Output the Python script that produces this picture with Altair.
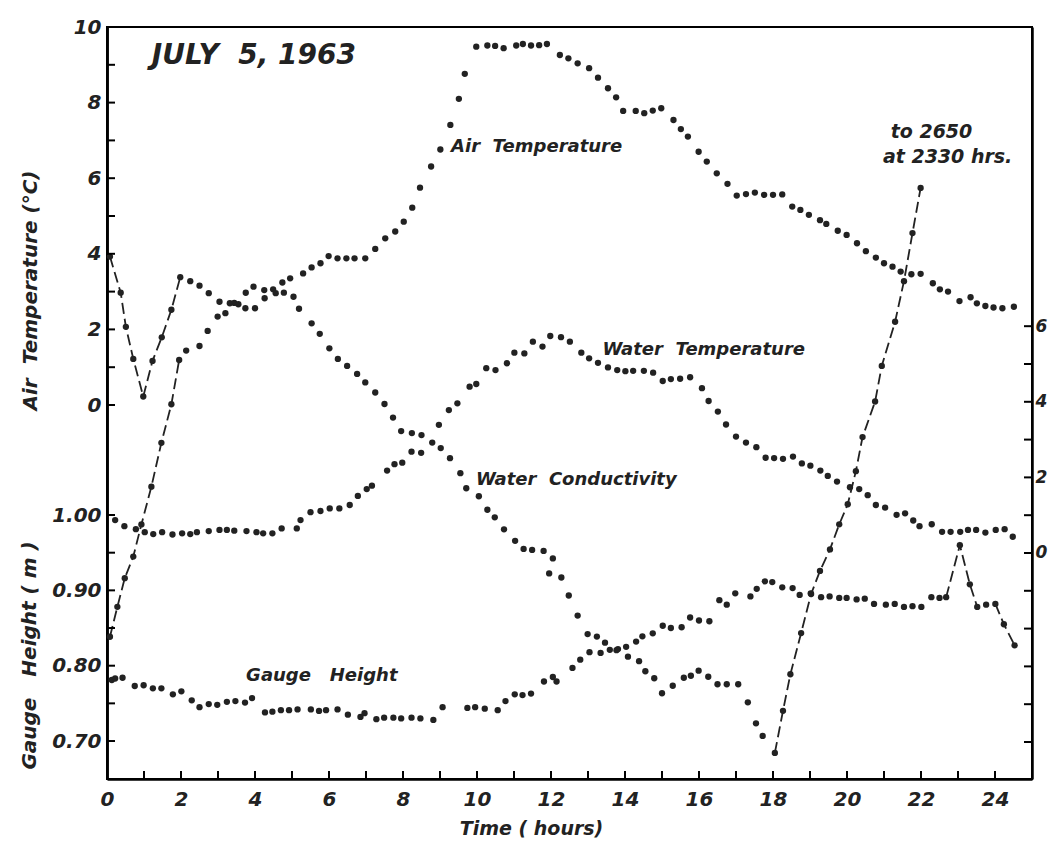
import altair as alt
import pandas as pd

# ------------------------------------------------------------------
# Data (hours after midnight, July 5, 1963)
# ------------------------------------------------------------------
air_hours = [0.08, 0.28, 0.48, 0.71, 0.93, 1.20, 1.47, 1.74, 1.95, 2.14, 2.50, 2.72,
             2.99, 3.20, 3.44, 3.75, 3.96, 4.25, 4.49, 4.74, 4.95, 5.30, 5.53, 5.77,
             5.99, 6.23, 6.47, 6.69, 6.98, 7.25, 7.52, 7.79, 8.02, 8.25, 8.46, 8.76,
             9.01, 9.28, 9.51, 9.67, 9.98, 10.28, 10.49, 10.72, 11.06, 11.24, 11.46,
             11.68, 11.89, 12.24, 12.47, 12.72, 13.03, 13.27, 13.54, 13.76, 13.95,
             14.29, 14.52, 14.75, 14.98, 15.31, 15.51, 15.70, 15.99, 16.21, 16.48,
             16.77, 17.02, 17.27, 17.51, 17.76, 18.00, 18.25, 18.52, 18.74, 18.97,
             19.27, 19.44, 19.75, 19.99, 20.27, 20.51, 20.78, 21.00, 21.23, 21.45,
             21.74, 21.99, 22.32, 22.51, 22.73, 23.04, 23.34, 23.51, 23.74, 23.96,
             24.20, 24.51]
air_temp = [-6.13, -5.34, -4.58, -4.01, -3.16, -2.16, -1.00, 0.02, 1.19, 1.44, 1.56, 1.96,
            2.34, 2.43, 2.70, 2.97, 3.13, 3.04, 3.06, 3.24, 3.35, 3.48, 3.64, 3.75,
            3.94, 3.88, 3.88, 3.88, 3.88, 4.13, 4.41, 4.59, 4.85, 5.22, 5.75, 6.31,
            6.76, 7.41, 8.10, 8.76, 9.48, 9.51, 9.50, 9.44, 9.51, 9.55, 9.51,
            9.52, 9.55, 9.26, 9.17, 9.04, 8.91, 8.66, 8.38, 8.14, 7.78,
            7.78, 7.72, 7.79, 7.85, 7.54, 7.30, 7.10, 6.70, 6.44, 6.13,
            5.85, 5.54, 5.58, 5.62, 5.56, 5.56, 5.57, 5.25, 5.16, 5.03,
            4.89, 4.79, 4.61, 4.50, 4.28, 4.07, 3.90, 3.75, 3.66, 3.53,
            3.46, 3.47, 3.22, 3.06, 3.00, 2.75, 2.85, 2.69, 2.62, 2.58,
            2.56, 2.60]

gauge_hours = [0.13, 0.22, 0.42, 0.75, 0.99, 1.24, 1.47, 1.78, 2.01, 2.29, 2.50, 2.75,
               2.98, 3.24, 3.47, 3.73, 3.92, 4.27, 4.47, 4.70, 4.92, 5.15, 5.51, 5.73,
               5.92, 6.23, 6.51, 6.85, 6.96, 7.28, 7.49, 7.74, 7.95, 8.23, 8.47, 8.82,
               9.07, 9.74, 9.95, 10.21, 10.56, 10.77, 11.02, 11.23, 11.46, 11.81, 12.05,
               12.15, 12.58, 12.79, 13.04, 13.34, 13.59, 13.81, 14.03, 14.30, 14.47,
               14.75, 15.02, 15.24, 15.53, 15.76, 16.00, 16.28, 16.55, 16.75, 16.98,
               17.39, 17.56, 17.78, 17.98, 18.25, 18.53, 18.72, 19.02, 19.30, 19.53,
               19.79, 19.99, 20.26, 20.48, 20.73, 21.05, 21.29, 21.54, 21.77, 22.01,
               22.28, 22.50, 22.68, 23.05, 23.32, 23.52, 23.76, 24.01, 24.24, 24.53]
gauge_height = [0.781, 0.783, 0.784, 0.773, 0.774, 0.770, 0.770, 0.762, 0.766, 0.754, 0.745, 0.749,
                0.748, 0.752, 0.753, 0.751, 0.757, 0.738, 0.739, 0.741, 0.741, 0.742, 0.742, 0.740,
                0.741, 0.742, 0.735, 0.732, 0.737, 0.729, 0.731, 0.731, 0.730, 0.731, 0.730, 0.728,
                0.745, 0.744, 0.745, 0.743, 0.741, 0.753, 0.762, 0.761, 0.763, 0.779, 0.785,
                0.779, 0.797, 0.808, 0.818, 0.817, 0.821, 0.822, 0.825, 0.832, 0.839,
                0.843, 0.853, 0.850, 0.851, 0.864, 0.860, 0.859, 0.887, 0.881, 0.896,
                0.892, 0.902, 0.912, 0.911, 0.904, 0.903, 0.894, 0.896, 0.891, 0.892,
                0.890, 0.890, 0.888, 0.889, 0.882, 0.881, 0.882, 0.878, 0.879, 0.878,
                0.891, 0.890, 0.891, 0.960, 0.908, 0.878, 0.881, 0.882, 0.855, 0.827]

water_hours = [0.22, 0.47, 0.78, 1.02, 1.25, 1.49, 1.77, 2.03, 2.25, 2.43, 2.75, 3.04,
               3.24, 3.44, 3.77, 4.04, 4.22, 4.47, 4.72, 5.13, 5.23, 5.50, 5.77, 6.02,
               6.28, 6.56, 6.78, 7.02, 7.16, 7.57, 7.77, 7.98, 8.23, 8.49, 8.97, 9.24,
               9.47, 9.80, 9.98, 10.25, 10.50, 10.81, 11.01, 11.28, 11.51, 11.77, 11.98,
               12.27, 12.51, 12.82, 13.03, 13.27, 13.54, 13.79, 14.01, 14.22, 14.51,
               14.76, 15.02, 15.24, 15.49, 15.76, 16.08, 16.26, 16.51, 16.73, 17.00,
               17.27, 17.55, 17.80, 18.03, 18.27, 18.54, 18.78, 19.01, 19.28, 19.48,
               19.73, 20.08, 20.33, 20.56, 20.78, 21.03, 21.34, 21.57, 21.79, 21.96,
               22.29, 22.57, 22.80, 23.06, 23.27, 23.49, 23.74, 24.02, 24.26, 24.48]
water_temp = [0.87, 0.71, 0.63, 0.55, 0.50, 0.55, 0.49, 0.52, 0.50, 0.55, 0.58, 0.61,
              0.61, 0.59, 0.58, 0.55, 0.52, 0.52, 0.65, 0.65, 0.87, 1.08, 1.11, 1.18,
              1.18, 1.27, 1.51, 1.69, 1.78, 2.18, 2.35, 2.39, 2.68, 2.65, 3.39, 3.78,
              3.96, 4.40, 4.47, 4.89, 4.84, 5.02, 5.30, 5.28, 5.59, 5.46, 5.74,
              5.71, 5.59, 5.30, 5.15, 5.03, 4.91, 4.84, 4.81, 4.82, 4.82,
              4.77, 4.55, 4.60, 4.61, 4.65, 4.36, 4.02, 3.74, 3.40, 3.08,
              2.92, 2.80, 2.52, 2.51, 2.49, 2.55, 2.37, 2.31, 2.18, 2.04,
              1.89, 1.74, 1.69, 1.53, 1.27, 1.20, 1.01, 1.05, 0.86, 0.71,
              0.76, 0.56, 0.56, 0.56, 0.61, 0.61, 0.54, 0.61, 0.63, 0.43]

cond_hours = [0.08, 0.37, 0.51, 0.71, 0.98, 1.23, 1.48, 1.74, 1.98, 2.25, 2.50, 2.75,
              3.04, 3.32, 3.55, 3.74, 4.00, 4.26, 4.56, 4.78, 5.04, 5.19, 5.53, 5.75,
              6.01, 6.24, 6.49, 6.76, 6.98, 7.25, 7.50, 7.73, 7.95, 8.24, 8.50, 8.79,
              9.02, 9.27, 9.55, 9.71, 10.05, 10.28, 10.48, 10.73, 11.03, 11.26, 11.49,
              11.80, 11.95, 12.05, 12.28, 12.48, 12.72, 12.99, 13.24, 13.46, 13.77,
              14.08, 14.38, 14.55, 14.79, 15.00, 15.29, 15.59, 15.78, 15.99, 16.25,
              16.50, 16.75, 17.06, 17.32, 17.54, 17.72, 18.05, 18.27, 18.47, 18.76,
              19.03, 19.27, 19.54, 19.79, 20.02, 20.24, 20.42, 20.76, 20.94, 21.30,
              21.54, 21.77, 21.99]
cond_value = [1042, 970, 902, 838, 763, 834, 881, 936, 1001, 993, 984, 969,
              952, 949, 947, 939, 939, 959, 969, 970, 962, 938, 909, 888,
              859, 838, 824, 808, 791, 771, 748, 721, 694, 690, 686, 671,
              660, 640, 610, 580, 564, 537, 522, 498, 475, 459, 457,
              455, 410, 440, 402, 366, 326, 289, 284, 272, 257,
              244, 235, 215, 201, 171, 186, 202, 206, 216, 204,
              189, 189, 189, 153, 111, 86, 52, 136, 209, 291,
              369, 415, 458, 508, 548, 614, 682, 753, 824, 912,
              993, 1089, 1179]

# stretches that the original joins with dashed lines
air_dash_ranges = [(0.08, 1.95)]
gauge_dash_ranges = [(22.68, 23.52), (24.01, 24.53)]
cond_dash_ranges = [(0.08, 1.98), (18.05, 21.99)]

# tick values
x_label_values = list(range(0, 25, 2))
x_tick_values = list(range(1, 25))
air_label_values = [0, 2, 4, 6, 8, 10]
air_tick_values = list(range(0, 11))
gauge_label_values = [0.70, 0.80, 0.90, 1.00]
gauge_tick_values = [0.70, 0.75, 0.80, 0.85, 0.90, 0.95, 1.00]
water_label_values = [0, 2, 4, 6]
water_tick_values = list(range(-5, 7))


def frame(hours, values, dash_ranges):
    seg = []
    for h in hours:
        s = None
        for i, (a, b) in enumerate(dash_ranges):
            if a <= h <= b:
                s = "s%d" % i
        seg.append(s)
    return pd.DataFrame({"h": hours, "v": values, "seg": seg})


air_df = frame(air_hours, air_temp, air_dash_ranges)
gauge_df = frame(gauge_hours, gauge_height, gauge_dash_ranges)
water_df = frame(water_hours, water_temp, [])
cond_df = frame(cond_hours, cond_value, cond_dash_ranges)

FONT = "DejaVu Sans"
INK = "#222222"
W, H = 925, 752
TICK = 8

XS = alt.Scale(domain=[0, 25], nice=False, zero=False)
AIR = alt.Scale(domain=[-9.894, 10], nice=False, zero=False)
GAU = alt.Scale(domain=[0.6496, 1.6478], nice=False, zero=False)
WAT = alt.Scale(domain=[-5.979, 13.915], nice=False, zero=False)
CON = alt.Scale(domain=[0, 1500], nice=False, zero=False)

lab = dict(labelFont=FONT, labelFontStyle="italic", labelFontWeight="bold",
           labelColor="#222222", labelOverlap=False, labelFlush=False)
ttl = dict(titleFont=FONT, titleFontStyle="italic", titleFontWeight="bold",
           titleColor="#222222", titleBaseline="middle", titleAlign="center")

x_main = alt.Axis(orient="bottom", values=x_label_values, format="d", ticks=False,
                  tickSize=0, domain=True, domainColor="black", domainWidth=2.5,
                  grid=False, labelPadding=10, labelFontSize=20,
                  title="Time\u00a0(\u00a0hours)",
                  titleFontSize=19, titleX=424, titleY=49, **ttl, **lab)
air_axis = alt.Axis(orient="left", values=air_label_values, format="d", ticks=False,
                    tickSize=0, domain=True, domainColor="black", domainWidth=2.5,
                    grid=False, labelPadding=6, labelFontSize=20,
                    title="Air\u00a0\u00a0Temperature\u00a0(°C)", titleFontSize=20,
                    titleX=-77, titleY=263, titleAngle=270, **ttl, **lab)
gauge_axis = alt.Axis(orient="left", values=gauge_label_values, format=".2f", ticks=False,
                      tickSize=0, domain=True, domainColor="black", domainWidth=2.5,
                      grid=False, labelPadding=6, labelFontSize=20,
                      title="Gauge\u00a0\u00a0\u00a0Height\u00a0(\u00a0m\u00a0)", titleFontSize=20,
                      titleX=-78, titleY=628, titleAngle=270, **ttl, **lab)
water_axis = alt.Axis(orient="right", values=water_label_values, format="d", ticks=False,
                      tickSize=0, domain=True, domainColor="black", domainWidth=2.5,
                      grid=False, labelPadding=3, labelFontSize=17, title=None, **lab)

dot = dict(size=40, color=INK, opacity=1)
dash = dict(color=INK, strokeWidth=1.8, strokeDash=[11, 5])

air_pts = alt.Chart(air_df).mark_circle(**dot).encode(
    x=alt.X("h:Q", scale=XS, axis=x_main),
    y=alt.Y("v:Q", scale=AIR, axis=air_axis),
)
air_line = alt.Chart(air_df).transform_filter("isValid(datum.seg)").mark_line(**dash).encode(
    x=alt.X("h:Q", scale=XS, axis=None),
    y=alt.Y("v:Q", scale=AIR, axis=None),
    detail="seg:N", order="h:Q",
)
gauge_pts = alt.Chart(gauge_df).mark_circle(**dot).encode(
    x=alt.X("h:Q", scale=XS, axis=None),
    y=alt.Y("v:Q", scale=GAU, axis=gauge_axis),
)
gauge_line = alt.Chart(gauge_df).transform_filter("isValid(datum.seg)").mark_line(**dash).encode(
    x=alt.X("h:Q", scale=XS, axis=None),
    y=alt.Y("v:Q", scale=GAU, axis=None),
    detail="seg:N", order="h:Q",
)
water_pts = alt.Chart(water_df).mark_circle(**dot).encode(
    x=alt.X("h:Q", scale=XS, axis=None),
    y=alt.Y("v:Q", scale=WAT, axis=water_axis),
)
cond_pts = alt.Chart(cond_df).mark_circle(**dot).encode(
    x=alt.X("h:Q", scale=XS, axis=None),
    y=alt.Y("v:Q", scale=CON, axis=None),
)
cond_line = alt.Chart(cond_df).transform_filter("isValid(datum.seg)").mark_line(**dash).encode(
    x=alt.X("h:Q", scale=XS, axis=None),
    y=alt.Y("v:Q", scale=CON, axis=None),
    detail="seg:N", order="h:Q",
)

# inward-pointing axis ticks, placed through the scales
rule = dict(color="black", strokeWidth=2)
x_ticks = alt.Chart(pd.DataFrame({"t": x_tick_values})).mark_rule(**rule).encode(
    x=alt.X("t:Q", scale=XS, axis=None), y=alt.value(H), y2=alt.value(H - TICK))
air_ticks = alt.Chart(pd.DataFrame({"t": air_tick_values})).mark_rule(**rule).encode(
    y=alt.Y("t:Q", scale=AIR, axis=None), x=alt.value(0), x2=alt.value(TICK))
gauge_ticks = alt.Chart(pd.DataFrame({"t": gauge_tick_values})).mark_rule(**rule).encode(
    y=alt.Y("t:Q", scale=GAU, axis=None), x=alt.value(0), x2=alt.value(TICK))
water_ticks = alt.Chart(pd.DataFrame({"t": water_tick_values})).mark_rule(**rule).encode(
    y=alt.Y("t:Q", scale=WAT, axis=None), x=alt.value(W - TICK), x2=alt.value(W))

# annotations (positions in hours / air-temperature units)
notes_main = pd.DataFrame({
    "h": [9.30, 13.39, 9.97, 3.76],
    "v": [6.83, 1.46, -1.98, -7.17],
    "label": ["Air\u00a0\u00a0Temperature", "Water\u00a0\u00a0Temperature",
              "Water\u00a0\u00a0Conductivity", "Gauge\u00a0\u00a0\u00a0Height"],
})
notes_date = pd.DataFrame({"h": [1.21], "v": [9.22], "label": ["JULY\u00a0\u00a05,\u00a01963"]})
notes_peak = pd.DataFrame({"h": [21.18, 20.97], "v": [7.22, 6.55],
                           "label": ["to\u00a02650", "at\u00a02330\u00a0hrs."]})


def text_layer(df, size):
    return alt.Chart(df).mark_text(
        font=FONT, fontStyle="italic", fontWeight="bold", fontSize=size, color="#222222",
        align="left", baseline="middle",
    ).encode(
        x=alt.X("h:Q", scale=XS, axis=None),
        y=alt.Y("v:Q", scale=AIR, axis=None),
        text="label:N",
    )


chart = alt.layer(
    air_line, gauge_line, cond_line,
    air_pts, gauge_pts, water_pts, cond_pts,
    x_ticks, air_ticks, gauge_ticks, water_ticks,
    text_layer(notes_main, 18), text_layer(notes_date, 28), text_layer(notes_peak, 19),
).resolve_scale(
    y="independent"
).resolve_axis(
    x="independent", y="independent"
).properties(
    width=W, height=H,
    autosize=alt.AutoSizeParams(type="none"),
    padding={"left": 99, "top": 19, "right": 16, "bottom": 62},
    background="white",
).configure_view(
    stroke="black", strokeWidth=2
)

chart.save("out.html", embed_options={"renderer": "svg", "actions": False})
